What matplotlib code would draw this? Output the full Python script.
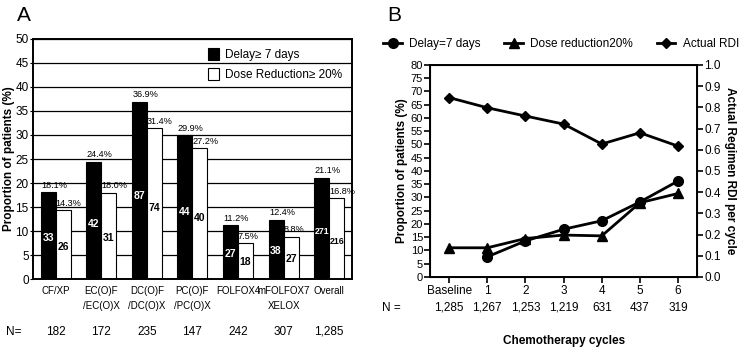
import matplotlib
matplotlib.use("Agg")
import matplotlib.pyplot as plt
from matplotlib.transforms import ScaledTranslation

plt.rcParams['font.family'] = ['Liberation Sans', 'DejaVu Sans']

# panel A data
regimens = ['CF/XP', 'EC(O)F\n/EC(O)X', 'DC(O)F\n/DC(O)X', 'PC(O)F\n/PC(O)X', 'FOLFOX4', 'mFOLFOX7\nXELOX', 'Overall']
n_regimen = ['182', '172', '235', '147', '242', '307', '1,285']
delay_pct = [18.1, 24.4, 36.9, 29.9, 11.2, 12.4, 21.1]
dose_pct = [14.3, 18.0, 31.4, 27.2, 7.5, 8.8, 16.8]
delay_n = [33, 42, 87, 44, 27, 38, 271]
dose_n = [26, 31, 74, 40, 18, 27, 216]

# panel B data
cycles = ['Baseline', '1', '2', '3', '4', '5', '6']
n_cycle = ['1,285', '1,267', '1,253', '1,219', '631', '437', '319']
delay_cycle = [None, 7.6, 13.6, 18.0, 21.2, 28.3, 36.2]
dose_cycle = [11.0, 11.0, 14.5, 15.8, 15.5, 28.0, 31.5]
rdi_cycle = [0.846, 0.798, 0.759, 0.721, 0.627, 0.680, 0.617]

fig = plt.figure(figsize=(7.48, 3.51), dpi=100)

# ---------- A ----------
ax = fig.add_axes([0.044, 0.205, 0.4265, 0.684])
w = 0.33
xs = list(range(len(regimens)))
ax.set_axisbelow(True)
ax.grid(axis='y', color='black', lw=0.9)
ax.bar([x - w / 2 for x in xs], delay_pct, w, color='black', edgecolor='black', lw=0.8, label='Delay≥ 7 days')
ax.bar([x + w / 2 for x in xs], dose_pct, w, color='white', edgecolor='black', lw=0.8, label='Dose Reduction≥ 20%')
for i in xs:
    ax.text(i - w + 0.01, delay_pct[i] + 0.5, '%.1f%%' % delay_pct[i], ha='left', va='bottom', fontsize=6.6)
    ax.text(i, dose_pct[i] + 0.5, '%.1f%%' % dose_pct[i], ha='left', va='bottom', fontsize=6.6)
    ax.text(i - w / 2, delay_pct[i] * 0.47, str(delay_n[i]), ha='center', va='center',
            fontsize=7.5 if delay_n[i] < 100 else 6.3, color='white', fontweight='bold')
    ax.text(i + w / 2, dose_pct[i] * 0.47, str(dose_n[i]), ha='center', va='center',
            fontsize=7.5 if dose_n[i] < 100 else 6.3, color='black', fontweight='bold')
    ax.text(i, -0.22, n_regimen[i], transform=ax.get_xaxis_transform(), ha='center', va='center', fontsize=8.5)
ax.text(-0.06, -0.22, 'N=', transform=ax.transAxes, ha='center', va='center', fontsize=8.5)
ax.set_xlim(-0.5, 6.5)
ax.set_ylim(0, 50)
ax.set_yticks(range(0, 51, 5))
ax.set_xticks(xs)
ax.set_xticklabels(regimens, fontsize=7, linespacing=1.6)
# FOLFOX4 and mFOLFOX7 sit nearly touching, as in the original
xl = ax.get_xticklabels()
xl[4].set_transform(xl[4].get_transform() + ScaledTranslation(-2 / 100, 0, fig.dpi_scale_trans))
xl[5].set_transform(xl[5].get_transform() + ScaledTranslation(2 / 100, 0, fig.dpi_scale_trans))
ax.tick_params(axis='x', length=0, pad=5)
ax.tick_params(axis='y', labelsize=8.5, length=2, pad=1)
for s in ax.spines.values():
    s.set_linewidth(1.4)
ax.set_ylabel('Proportion of patients (%)', fontweight='bold', fontsize=8.5)
ax.yaxis.set_label_coords(-0.056, 0.5)
ax.legend(loc='upper right', frameon=False, fontsize=8.5, handlelength=1.0, handleheight=1.1,
          borderaxespad=0.4, labelspacing=0.6, handletextpad=0.5)
fig.text(0.022, 0.955, 'A', fontsize=15, va='center')

# ---------- B ----------
bx = fig.add_axes([0.575, 0.211, 0.357, 0.604])
l1, = bx.plot(xs[1:], delay_cycle[1:], color='black', lw=2, marker='o', ms=7, label='Delay=7 days')
l2, = bx.plot(xs, dose_cycle, color='black', lw=2, marker='^', ms=7, label='Dose reduction20%')
bx.set_xlim(-0.5, 6.5)
bx.set_ylim(0, 80)
bx.set_yticks(range(0, 81, 5))
bx.set_xticks(xs)
bx.set_xticklabels(cycles, fontsize=8.5)
bx.tick_params(axis='y', labelsize=8, length=4, width=1.2, pad=1, direction='out')
bx.tick_params(axis='x', length=4, width=1.2, pad=2)
for s in bx.spines.values():
    s.set_linewidth(1.4)
bx.set_ylabel('Proportion of patients (%)', fontweight='bold', fontsize=8.5, labelpad=2)

b2 = bx.twinx()
l3, = b2.plot(xs, rdi_cycle, color='black', lw=2, marker='D', ms=5, label='Actual RDI')
b2.set_ylim(0, 1.0)
b2.set_yticks([i / 10 for i in range(11)])
b2.set_yticklabels(['%.1f' % (i / 10) for i in range(11)], fontsize=8.5)
b2.tick_params(axis='y', length=4, width=1.2, pad=1)
b2.set_ylabel('Actual Regimen RDI per cycle', fontweight='bold', fontsize=8.5,
              rotation=-90, labelpad=11)

for i in xs:
    bx.text(i, -0.145, n_cycle[i], transform=bx.get_xaxis_transform(), ha='center', va='center', fontsize=8.5)
bx.text(-0.145, -0.145, 'N =', transform=bx.transAxes, ha='center', va='center', fontsize=8.5)
bx.set_xlabel('Chemotherapy cycles', fontweight='bold', fontsize=8.5, labelpad=27)

bx.legend(handles=[l1, l2, l3], loc='center', bbox_to_anchor=(0.49, 1.1), ncol=3, frameon=False,
          prop={'size': 8.5}, handlelength=1.6, columnspacing=2.0, handletextpad=0.6)
fig.text(0.518, 0.955, 'B', fontsize=15, va='center')

fig.savefig('out.png', dpi=100)
